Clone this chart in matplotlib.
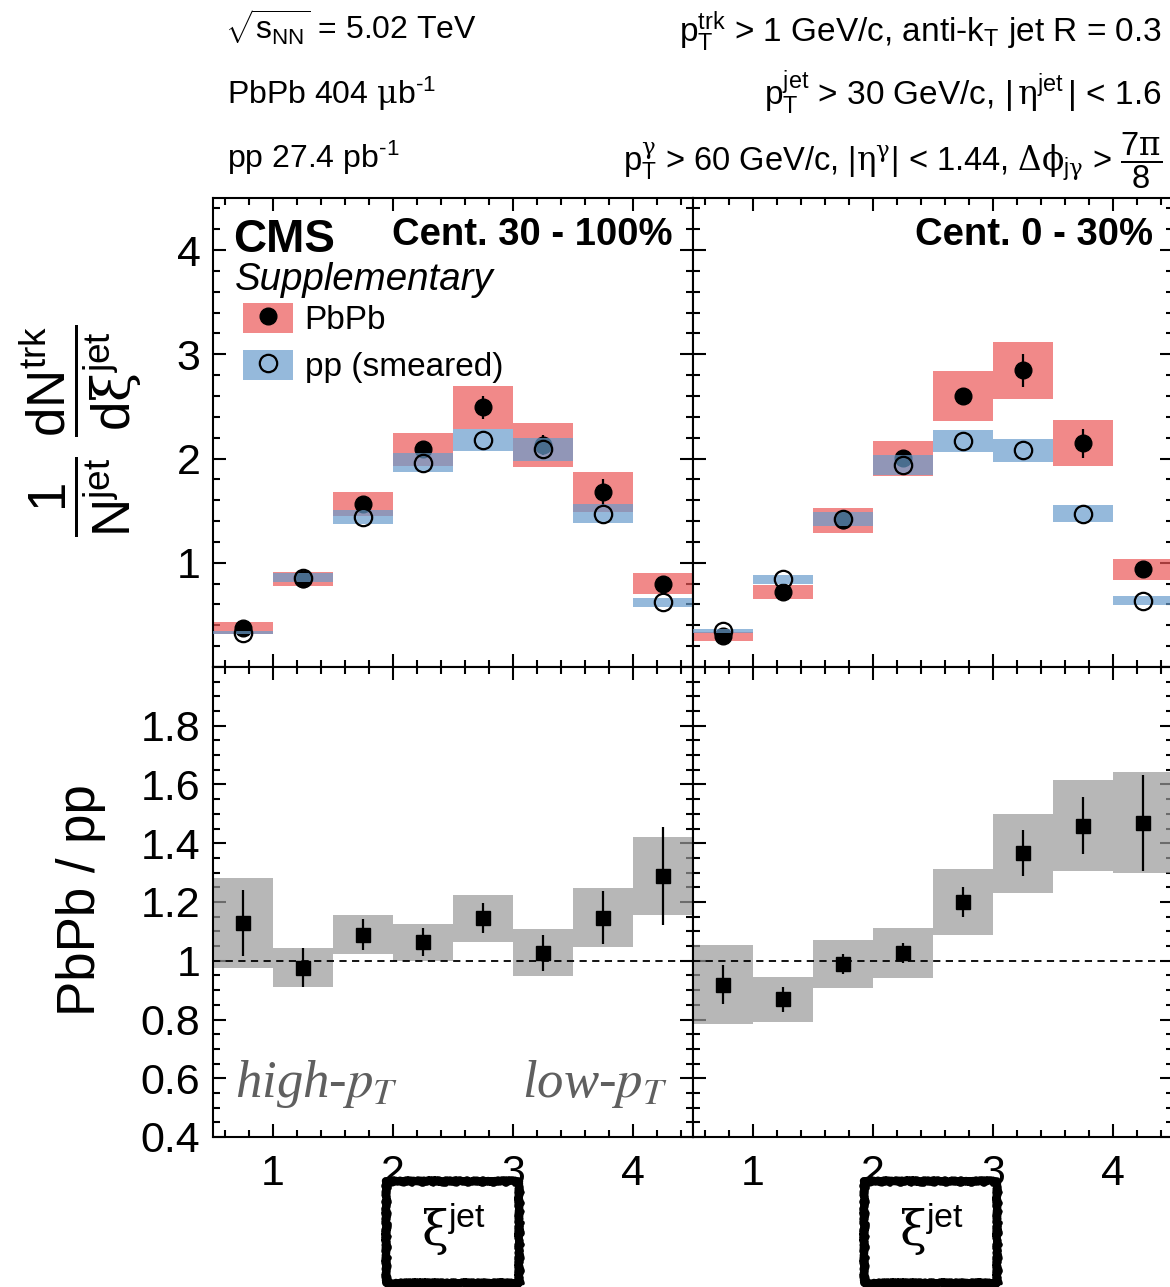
import numpy as np
import matplotlib
matplotlib.use('Agg')
import matplotlib.pyplot as plt
from matplotlib.ticker import MultipleLocator, FixedLocator, FixedFormatter
from matplotlib.patches import Patch
from matplotlib.lines import Line2D
from matplotlib.legend_handler import HandlerTuple

# xi^jet bins (width 0.5)
xi_bins = [0.75, 1.25, 1.75, 2.25, 2.75, 3.25, 3.75, 4.25]
bin_width = 0.5

# Cent. 30-100%
pbpb_periph = [0.376, 0.84, 1.566, 2.087, 2.49, 2.13, 1.68, 0.80]
pbpb_periph_stat = [0.02, 0.02, 0.03, 0.05, 0.11, 0.10, 0.125, 0.07]
pbpb_periph_sys = [0.055, 0.067, 0.117, 0.155, 0.21, 0.21, 0.19, 0.104]
pp_periph = [0.328, 0.856, 1.44, 1.96, 2.18, 2.09, 1.47, 0.62]
pp_periph_sys = [0.016, 0.044, 0.065, 0.09, 0.105, 0.11, 0.09, 0.04]

# Cent. 0-30%
pbpb_central = [0.296, 0.72, 1.406, 2.004, 2.60, 2.845, 2.146, 0.936]
pbpb_central_stat = [0.02, 0.02, 0.03, 0.04, 0.075, 0.16, 0.14, 0.06]
pbpb_central_sys = [0.043, 0.064, 0.117, 0.167, 0.243, 0.275, 0.22, 0.10]
pp_central = [0.344, 0.84, 1.416, 1.94, 2.17, 2.08, 1.47, 0.638]
pp_central_sys = [0.016, 0.043, 0.067, 0.093, 0.107, 0.109, 0.08, 0.04]

# PbPb / pp ratios
ratio_periph = [1.128, 0.977, 1.089, 1.063, 1.145, 1.027, 1.147, 1.289]
ratio_periph_stat = [0.112, 0.066, 0.054, 0.048, 0.052, 0.061, 0.089, 0.166]
ratio_periph_sys = [0.153, 0.067, 0.067, 0.063, 0.08, 0.08, 0.10, 0.133]
ratio_central = [0.919, 0.869, 0.988, 1.026, 1.199, 1.366, 1.46, 1.47]
ratio_central_stat = [0.065, 0.042, 0.034, 0.035, 0.051, 0.078, 0.098, 0.164]
ratio_central_sys = [0.134, 0.076, 0.081, 0.086, 0.113, 0.135, 0.155, 0.172]

cent_labels = ['Cent. 30 - 100%', 'Cent. 0 - 30%']

red = (0.925, 0.34, 0.34)
blue = (0.41, 0.61, 0.80)
gray = (0.6, 0.6, 0.6)
box_alpha = 0.7

params = {'font.family': ['Liberation Sans', 'DejaVu Sans'],
          'mathtext.fontset': 'custom',
          'mathtext.rm': 'Liberation Sans',
          'mathtext.it': 'Liberation Sans:italic',
          'mathtext.bf': 'Liberation Sans:bold',
          'mathtext.sf': 'DejaVu Serif',
          'axes.linewidth': 1.5,
          'axes.axisbelow': True}
plt.rcParams.update(params)

W, H = 1170, 1287
fig = plt.figure(figsize=(W / 100.0, H / 100.0), dpi=100)


def fx(px):
    return px / float(W)


def fy(py):
    return 1.0 - py / float(H)


ax_tl = fig.add_axes([fx(213), fy(667), 480.0 / W, 469.0 / H])
ax_tr = fig.add_axes([fx(693), fy(667), 480.0 / W, 469.0 / H])
ax_bl = fig.add_axes([fx(213), fy(1137), 480.0 / W, 470.0 / H])
ax_br = fig.add_axes([fx(693), fy(1137), 480.0 / W, 470.0 / H])

x = np.array(xi_bins)


def style_axis(ax):
    ax.set_xlim(0.5, 4.5)
    ax.xaxis.set_major_locator(MultipleLocator(1))
    ax.xaxis.set_minor_locator(MultipleLocator(0.2))
    ax.tick_params(which='both', direction='in', top=True, right=True, width=1.5, labelsize=31)
    ax.tick_params(which='major', length=9.5)
    ax.tick_params(which='minor', length=5)
    ax.tick_params(axis='y', pad=9)
    ax.tick_params(axis='x', pad=12)


def rough_frame(x0, y0, x1, y1):
    # hand-drawn looking frame in figure pixels
    edges = [((x0, y0), (x1, y0)), ((x1, y0), (x1, y1)),
             ((x1, y1), (x0, y1)), ((x0, y1), (x0, y0))]
    for (xa, ya), (xb, yb) in edges:
        for lw, sc, ln, off in [(5.5, 1.0, 3, 0.0), (2.5, 1.6, 14, 2.0), (1.8, 1.2, 6, -2.0)]:
            ox = off if xa == xb else 0.0
            oy = off if ya == yb else 0.0
            ln2d = Line2D([fx(xa + ox), fx(xb + ox)], [fy(ya + oy), fy(yb + oy)],
                          transform=fig.transFigure, color='black', lw=lw,
                          solid_capstyle='round')
            ln2d.set_sketch_params(scale=sc, length=ln, randomness=3)
            fig.add_artist(ln2d)


# upper panels: distributions
tops = [(ax_tl, pbpb_periph, pbpb_periph_stat, pbpb_periph_sys, pp_periph, pp_periph_sys),
        (ax_tr, pbpb_central, pbpb_central_stat, pbpb_central_sys, pp_central, pp_central_sys)]
for i, (ax, pb, pb_stat, pb_sys, pp, pp_sys) in enumerate(tops):
    pb = np.array(pb); pb_sys = np.array(pb_sys)
    pp = np.array(pp); pp_sys = np.array(pp_sys)
    ax.bar(x, 2 * pb_sys, width=bin_width, bottom=pb - pb_sys, color=red, alpha=box_alpha,
           linewidth=0, zorder=2)
    ax.errorbar(x, pb, yerr=pb_stat, fmt='o', color='black', ms=12, elinewidth=1.6,
                capsize=0, zorder=3)
    ax.bar(x, 2 * pp_sys, width=bin_width, bottom=pp - pp_sys, color=blue, alpha=box_alpha,
           linewidth=0, zorder=4)
    ax.plot(x, pp, 'o', mfc='none', mec='black', mew=1.6, ms=12.5, zorder=5)
    style_axis(ax)
    ax.set_ylim(0, 4.5)
    ax.yaxis.set_major_locator(FixedLocator([0, 1, 2, 3, 4]))
    ax.yaxis.set_minor_locator(MultipleLocator(0.2))
    ax.set_xticklabels([])
    if i == 0:
        ax.yaxis.set_major_formatter(FixedFormatter(['', '1', '2', '3', '4']))
    else:
        ax.set_yticklabels([])
    ax.text(0.958, 0.90, cent_labels[i], transform=ax.transAxes, ha='right', va='baseline',
            fontsize=27.5, fontweight='bold')

ax_tl.text(0.042, 0.885, 'CMS', transform=ax_tl.transAxes, ha='left', va='baseline',
           fontsize=33, fontweight='bold')
ax_tl.text(0.046, 0.804, 'Supplementary', transform=ax_tl.transAxes, ha='left', va='baseline',
           fontsize=27.7, style='italic')

h_pbpb = (Patch(facecolor=red, alpha=box_alpha, linewidth=0),
          Line2D([], [], marker='o', ls='none', color='black', ms=12))
h_pp = (Patch(facecolor=blue, alpha=box_alpha, linewidth=0),
        Line2D([], [], marker='o', ls='none', mfc='none', mec='black', mew=1.6, ms=12.5))
ax_tl.legend([h_pbpb, h_pp], ['PbPb', 'pp (smeared)'], handler_map={tuple: HandlerTuple(ndivide=1)},
             loc='upper left', bbox_to_anchor=(0.0625, 0.776), frameon=False, fontsize=24,
             handlelength=1.5, handleheight=1.0, labelspacing=0.4, handletextpad=0.35,
             borderpad=0, borderaxespad=0)

# lower panels: ratios
bottoms = [(ax_bl, ratio_periph, ratio_periph_stat, ratio_periph_sys),
           (ax_br, ratio_central, ratio_central_stat, ratio_central_sys)]
for i, (ax, r, r_stat, r_sys) in enumerate(bottoms):
    r = np.array(r); r_sys = np.array(r_sys)
    ax.bar(x, 2 * r_sys, width=bin_width, bottom=r - r_sys, color=gray, alpha=box_alpha,
           linewidth=0, zorder=2)
    ax.axhline(1, color='black', lw=1.3, ls=(0, (4, 3)), zorder=3)
    ax.errorbar(x, r, yerr=r_stat, fmt='s', color='black', ms=10, elinewidth=1.6,
                capsize=0, zorder=4)
    style_axis(ax)
    ax.set_ylim(0.4, 2.0)
    ax.yaxis.set_major_locator(FixedLocator([0.4, 0.6, 0.8, 1.0, 1.2, 1.4, 1.6, 1.8, 2.0]))
    ax.yaxis.set_minor_locator(MultipleLocator(0.05))
    if i == 0:
        ax.yaxis.set_major_formatter(FixedFormatter(['0.4', '0.6', '0.8', '1', '1.2', '1.4',
                                                     '1.6', '1.8', '']))
    else:
        ax.set_yticklabels([])
    ax.xaxis.set_major_locator(FixedLocator([1, 2, 3, 4]))
    ax.xaxis.set_major_formatter(FixedFormatter(['1', '2', '3', '4']))

ax_bl.text(0.046, 0.085, r'high-$p_T$', transform=ax_bl.transAxes, ha='left', va='baseline',
           fontsize=38, family='Liberation Serif', style='italic', color='#5f5f5f',
           math_fontfamily='stix')
ax_bl.text(0.948, 0.085, r'low-$p_T$', transform=ax_bl.transAxes, ha='right', va='baseline',
           fontsize=38, family='Liberation Serif', style='italic', color='#5f5f5f',
           math_fontfamily='stix')

# axis titles
fig.text(fx(81), fy(431),
         r'$\dfrac{1}{\mathrm{N}^{\mathrm{jet}}}\ \dfrac{\mathrm{dN}^{\mathrm{trk}}}{\mathrm{d}\mathsf{\xi}^{\mathrm{jet}}}$',
         rotation=90, ha='center', va='center', fontsize=38)
fig.text(fx(81), fy(900), 'PbPb / pp', rotation=90, ha='center', va='center', fontsize=38)

for cx in [453, 931]:
    fig.text(fx(cx), fy(1230), r'$\mathsf{\xi}^{\mathrm{jet}}$', ha='center', va='center', fontsize=35)
    rough_frame(cx - 67, 1181, cx + 66, 1283)

# header lines
fig.text(fx(225), fy(40), r'$\sqrt{\mathrm{s}_{\mathrm{NN}}}$ = 5.02 TeV', ha='left', va='baseline', fontsize=23)
fig.text(fx(227), fy(104), r'PbPb 404 $\mathsf{\mu}$b$^{\text{-1}}$', ha='left', va='baseline', fontsize=23)
fig.text(fx(227), fy(168), r'pp 27.4 pb$^{\text{-1}}$', ha='left', va='baseline', fontsize=23)
fig.text(fx(1162), fy(42), r'p$_{\mathrm{T}}^{\mathrm{trk}}$ > 1 GeV/c, anti-k$_{\mathrm{T}}$ jet R = 0.3',
         ha='right', va='baseline', fontsize=24)
fig.text(fx(1162), fy(105), r'p$_{\mathrm{T}}^{\mathrm{jet}}$ > 30 GeV/c, $|\,\mathsf{\eta}^{\mathrm{jet}}\,|$ < 1.6',
         ha='right', va='baseline', fontsize=24)
fig.text(fx(1162), fy(171),
         r'p$_{\mathrm{T}}^{\mathsf{\gamma}}$ > 60 GeV/c, $|\mathsf{\eta}^{\mathsf{\gamma}}|$ < 1.44, '
         r'$\mathsf{\Delta\phi}_{\mathrm{j}\mathsf{\gamma}}$ > $\dfrac{7\mathsf{\pi}}{8}$',
         ha='right', va='baseline', fontsize=23.5)

fig.savefig('out.png', dpi=100)
